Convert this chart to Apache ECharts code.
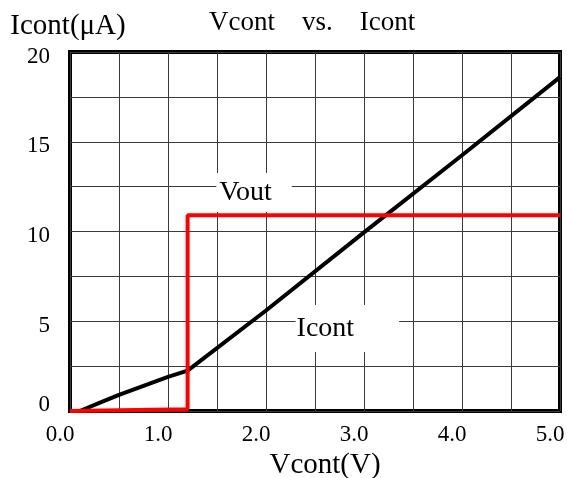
<!DOCTYPE html>
<html>
<head>
<meta charset="utf-8">
<script src="https://cdn.jsdelivr.net/npm/echarts@6/dist/echarts.min.js"></script>
<style>
  html, body { margin: 0; padding: 0; background: #fff; }
  #chart { width: 567px; height: 478px; }
</style>
</head>
<body>
<div id="chart"></div>
<script>
// Control current vs. control voltage, with the Vout step overlaid
const icontV = [0.1, 0.3, 0.5, 0.75, 1.0, 1.2, 2.0, 3.0, 4.0, 5.0];
const icontI = [0.0, 0.45, 0.9, 1.4, 1.9, 2.25, 5.6, 9.95, 14.25, 18.6];

const voutV = [0.0, 1.2, 1.2, 5.0];
const voutI = [0.0, 0.1, 10.9, 10.9];

const xTickValues = [0, 1, 2, 3, 4, 5];
const xTickLabels = ['0.0', '1.0', '2.0', '3.0', '4.0', '5.0'];
const yTickValues = [0, 5, 10, 15, 20];
const yTickLabels = ['0', '5', '10', '15', '20'];

// Curve name tags, anchored in data coordinates
const tagNames = ['Vout', 'Icont'];
const tagAnchors = [[1.878, 12.17], [2.83, 4.6]];

const FONT = '"Liberation Serif", "Times New Roman", serif';

const zip = (xs, ys) => xs.map((x, i) => [x, ys[i]]);

const chart = echarts.init(document.getElementById('chart'), null, { renderer: 'canvas' });

chart.setOption({
  animation: false,
  backgroundColor: '#fff',
  title: {
    text: 'Vcont    vs.    Icont',
    left: 204,
    top: 4,
    textStyle: { fontFamily: FONT, fontSize: 27, fontWeight: 'normal', color: '#000' }
  },
  grid: {
    left: 70, right: 7, top: 52, bottom: 67,
    containLabel: false,
    outerBoundsMode: 'none',
    show: true, borderColor: '#000', borderWidth: 4, backgroundColor: 'transparent'
  },
  xAxis: {
    type: 'value', min: 0, max: 5, interval: 0.5,
    name: 'Vcont(V)',
    nameLocation: 'middle',
    nameGap: 35,
    nameTextStyle: { fontFamily: FONT, fontSize: 29, color: '#000', padding: [0, 0, 0, 20] },
    axisLine: { show: false },
    axisTick: { show: false },
    splitLine: { show: true, lineStyle: { color: '#3a3a3a', width: 1 } },
    axisLabel: {
      fontFamily: FONT, fontSize: 23, color: '#000', margin: 12,
      padding: [0, 20, 0, 0],
      formatter: v => {
        const i = xTickValues.indexOf(v);
        return i >= 0 ? xTickLabels[i] : '';
      }
    }
  },
  yAxis: {
    type: 'value', min: 0, max: 20, interval: 2.5,
    name: 'Icont(μA)',
    nameLocation: 'end',
    nameGap: 26,
    nameTextStyle: { fontFamily: FONT, fontSize: 29, color: '#000', align: 'center', verticalAlign: 'middle', padding: [0, 4, 0, 0] },
    axisLine: { show: false },
    axisTick: { show: false },
    splitLine: { show: true, lineStyle: { color: '#3a3a3a', width: 1 } },
    axisLabel: {
      fontFamily: FONT, fontSize: 23, color: '#000', margin: 20,
      formatter: v => {
        const i = yTickValues.indexOf(v);
        if (i < 0) return '';
        return v === 0 ? '{z|' + yTickLabels[i] + '}' : '{n|' + yTickLabels[i] + '}';
      },
      rich: {
        n: { fontFamily: FONT, fontSize: 23, color: '#000', padding: [9, 0, 0, 0] },
        z: { fontFamily: FONT, fontSize: 23, color: '#000', padding: [0, 0, 12, 0] }
      }
    }
  },
  series: [
    {
      name: 'Icont',
      type: 'line',
      data: zip(icontV, icontI),
      showSymbol: false,
      lineStyle: { color: '#000', width: 4 },
      z: 3
    },
    {
      name: 'Vout',
      type: 'line',
      data: zip(voutV, voutI),
      showSymbol: false,
      lineStyle: { color: '#ff0000', width: 4 },
      z: 4
    },
    {
      name: 'tags',
      type: 'scatter',
      symbolSize: 0,
      itemStyle: { opacity: 1 },
      data: tagAnchors.map((p, i) => ({
        value: p,
        label: {
          formatter: tagNames[i],
          padding: i === 0 ? [5, 20, 6, 3] : [6, 45, 13, 1]
        }
      })),
      label: {
        show: true,
        position: 'inside',
        fontFamily: FONT, fontSize: 28, color: '#000',
        textBorderWidth: 0,
        opacity: 1,
        backgroundColor: '#fff'
      },
      z: 2
    }
  ]
});
</script>
</body>
</html>
